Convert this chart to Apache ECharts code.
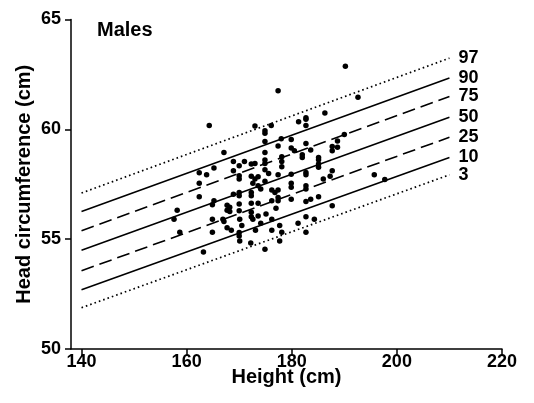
<!DOCTYPE html>
<html><head><meta charset="utf-8">
<script src="https://cdn.jsdelivr.net/npm/echarts@6/dist/echarts.min.js"></script>
<style>html,body{margin:0;padding:0;background:#fff}#c{width:534px;height:403px}</style>
</head><body><div id="c"></div>
<script>
// Percentile lines: head circumference at height 140 cm and 210 cm
const lineHeights = [140, 210];
const p97 = [57.1, 63.24];
const p90 = [56.26, 62.34];
const p75 = [55.38, 61.5];
const p50 = [54.5, 60.55];
const p25 = [53.56, 59.64];
const p10 = [52.7, 58.72];
const p3 = [51.88, 57.93];

// Individual males
const heights = [190.2,177.4,192.6,164.3,173.0,176.1,186.3,182.7,182.7,181.3,182.7,174.9,174.9,190.0,178.0,179.9,174.9,182.7,177.4,188.7,187.7,188.7,187.7,179.9,180.5,183.6,174.9,167.1,182.0,182.0,185.1,185.1,178.1,178.1,174.9,174.9,168.9,171.0,172.3,173.0,170.0,185.1,185.1,165.2,162.4,163.8,174.9,175.6,177.4,179.9,182.7,182.7,187.7,195.7,197.7,187.3,186.0,168.9,170.0,170.0,172.3,173.0,173.6,174.9,172.6,173.6,174.1,162.4,179.9,179.9,182.7,182.7,176.2,177.4,176.8,172.3,170.0,170.0,168.9,172.3,162.4,185.1,177.4,176.2,177.4,179.9,183.6,182.7,165.2,164.9,170.0,172.3,173.6,167.7,187.7,177.0,158.2,167.7,168.2,170.0,172.3,175.1,173.6,172.3,182.7,157.6,164.9,166.9,170.1,167.1,172.6,184.3,176.2,181.2,174.1,177.7,170.5,167.7,168.5,158.7,164.9,170.0,173.1,176.2,178.1,182.7,170.0,170.1,172.2,177.7,163.2,174.9,168.2,178.1];
const heads = [62.87,61.76,61.46,60.17,60.15,60.17,60.74,60.53,60.46,60.35,60.17,59.94,59.82,59.76,59.57,59.54,59.45,59.36,59.24,59.47,59.22,59.18,59.03,59.15,59.03,59.06,58.95,58.95,58.84,58.72,58.72,58.62,58.75,58.54,58.6,58.45,58.53,58.53,58.42,58.45,58.34,58.42,58.27,58.24,58.02,57.93,58.16,57.99,57.93,57.96,58.04,57.93,58.12,57.93,57.72,57.86,57.74,58.12,57.89,57.74,57.86,57.74,57.84,57.64,57.54,57.43,57.28,57.54,57.54,57.36,57.43,57.28,57.24,57.24,57.13,57.13,57.13,56.98,57.05,56.98,56.93,56.93,56.9,56.75,56.75,56.82,56.82,56.72,56.75,56.57,56.6,56.63,56.63,56.54,56.52,56.41,56.32,56.32,56.26,56.29,56.22,56.14,56.06,56.02,56.02,55.91,55.91,55.91,55.91,55.8,55.91,55.91,55.91,55.73,55.73,55.62,55.62,55.52,55.41,55.32,55.32,55.3,55.41,55.41,55.32,55.32,55.14,54.92,54.82,54.92,54.42,54.54,56.45,58.3];

const xTicks = [140, 160, 180, 200, 220];
const FONT = 'Liberation Sans, Arial, Helvetica, sans-serif';

const pts = heights.map((h, i) => [h, heads[i]]);
function lineSeries(name, vals, type) {
  return {
    type: 'line', name: name, data: lineHeights.map((h, i) => [h, vals[i]]),
    symbol: 'none', silent: true,
    lineStyle: { color: '#000', width: type === 'dotted' ? 1.7 : 1.6,
      type: type === 'solid' ? 'solid' : (type === 'dashed' ? [13, 6] : [1.6, 3]) },
    endLabel: { show: true, formatter: name, distance: 9, color: '#000',
      fontFamily: FONT, fontSize: 18, fontWeight: 'bold' }
  };
}

const chart = echarts.init(document.getElementById('c'), null, { renderer: 'canvas' });
chart.setOption({
  animation: false,
  backgroundColor: '#fff',
  grid: { left: 71, right: 32, top: 19.5, bottom: 54 },
  xAxis: {
    type: 'value', min: 138, max: 220,
    name: 'Height (cm)', nameLocation: 'middle', nameGap: 18, nameMoveOverlap: false,
    nameTextStyle: { color: '#000', fontFamily: FONT, fontSize: 20, fontWeight: 'bold' },
    axisLine: { show: true, onZero: false, lineStyle: { color: '#000', width: 1.5 } },
    axisTick: { show: true, customValues: xTicks, length: 7, lineStyle: { color: '#000', width: 1.5 } },
    axisLabel: { customValues: xTicks, color: '#000', fontFamily: FONT, fontSize: 18, fontWeight: 'bold', margin: 4 },
    splitLine: { show: false }
  },
  yAxis: {
    type: 'value', min: 50, max: 65, interval: 5,
    name: 'Head circumference (cm)', nameLocation: 'middle', nameGap: 37, nameMoveOverlap: false,
    nameTextStyle: { color: '#000', fontFamily: FONT, fontSize: 20, fontWeight: 'bold' },
    axisLine: { show: true, lineStyle: { color: '#000', width: 1.5 } },
    axisTick: { show: true, length: 6, lineStyle: { color: '#000', width: 1.5 } },
    axisLabel: { color: '#000', fontFamily: FONT, fontSize: 18, fontWeight: 'bold', margin: 10 },
    splitLine: { show: false }
  },
  graphic: [{ type: 'text', left: 97, top: 20,
    style: { text: 'Males', fill: '#000', font: 'bold 20px ' + FONT } }],
  series: [
    lineSeries('97', p97, 'dotted'),
    lineSeries('90', p90, 'solid'),
    lineSeries('75', p75, 'dashed'),
    lineSeries('50', p50, 'solid'),
    lineSeries('25', p25, 'dashed'),
    lineSeries('10', p10, 'solid'),
    lineSeries('3', p3, 'dotted'),
    { type: 'scatter', data: pts, symbolSize: 5.5, itemStyle: { color: '#000', opacity: 1 }, silent: true }
  ]
});
</script></body></html>
